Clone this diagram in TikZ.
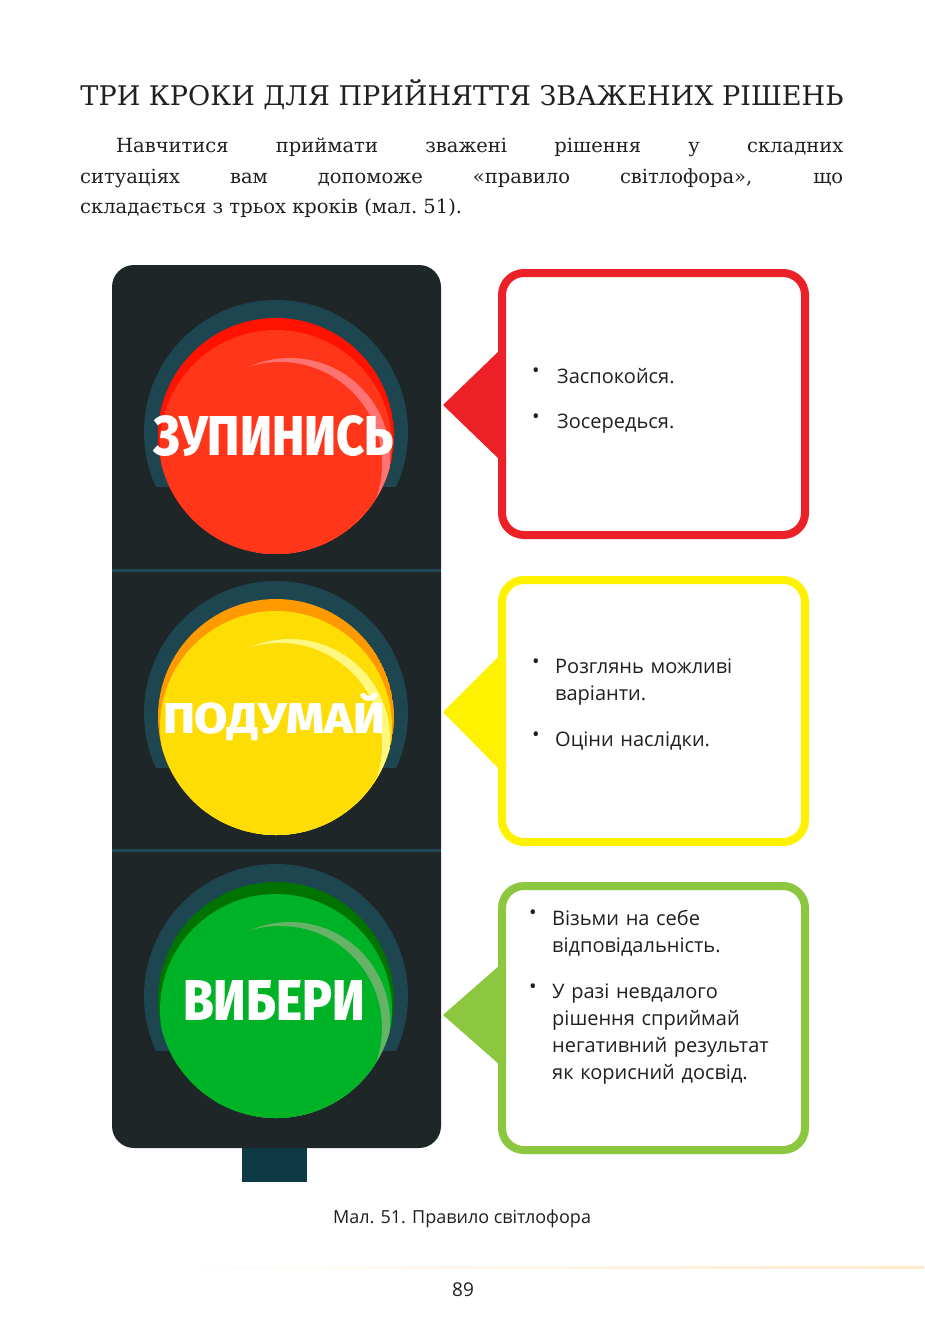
\documentclass[tikz,border=0pt]{standalone}
\usepackage{fontspec}
\setmainfont{Open Sans}
\newfontfamily\serifnt{DejaVu Serif}
\newfontfamily\condf{Fira Sans}[UprightFont=* ExtraBold]
\definecolor{body}{HTML}{1E2628}
\definecolor{ring}{HTML}{1D4650}
\definecolor{divc}{HTML}{1D4A55}
\definecolor{pole}{HTML}{0D3A45}
\definecolor{cred}{HTML}{EC2027}
\definecolor{cyel}{HTML}{FFF200}
\definecolor{cgrn}{HTML}{8DC63F}
\definecolor{txt}{HTML}{231F20}
\tikzset{
 box/.style={draw=#1,line width=8pt,rounded corners=22pt,fill=white},
 ltxt/.style={anchor=north west,text width=225pt,align=left,inner sep=0pt,font=\fontsize{20}{27}\selectfont,text=txt},
 bul/.style={anchor=north west,inner sep=0pt,font=\fontsize{20}{27}\selectfont,text=txt},
 lab/.style={text=white,inner sep=0pt,font=\condf\fontsize{44}{44}\selectfont}
}
\newcommand{\mylight}[6]{% y, crescent col, main col, highlight col, text, width
 \begin{scope}
  \clip (112,#1+50) rectangle (441,#1-140);
  \fill[ring] (276,#1-4) circle (132);
 \end{scope}
 \begin{scope}
  \clip (276,#1) circle (118);
  \fill[#2] (276,#1) circle (118);
  \fill[#3] (276,#1+10) circle (116);
  \fill[#4] (290,#1+22) circle (100);
  \fill[#3] (280,#1+28) circle (102);
 \end{scope}
 \node[lab] at (274,#1) {\resizebox{#6pt}{40pt}{#5}};
}
\begin{document}
\begin{tikzpicture}[x=1pt,y=-1pt]
\useasboundingbox (0,0) rectangle (924,1332);
\fill[white] (0,0) rectangle (924,1332);
\node[inner sep=0pt,text=txt] (title) at (462,95) {\resizebox{763pt}{!}{\serifnt\fontsize{20}{20}\selectfont ТРИ КРОКИ ДЛЯ ПРИЙНЯТТЯ ЗВАЖЕНИХ РІШЕНЬ}};
\node[anchor=north west,inner sep=0pt,text width=763pt,align=justify,text=txt,font=\serifnt\fontsize{19.5}{30.5}\selectfont] (para) at (80,138)
 {\hspace*{36pt}Навчитися приймати зважені рішення у складних\linebreak ситуаціях вам допоможе «правило світлофора», що\linebreak складається з трьох кроків (мал.~51).\par};
% traffic light
\fill[pole] (242,1140) rectangle (307,1182);
\fill[body,rounded corners=22pt] (112,265) rectangle (441,1148);
\draw[divc,line width=3pt] (112,570) -- (441,570);
\draw[divc,line width=3pt] (112,850) -- (441,850);
\mylight{436}{red!85!orange}{red!75!orange!90!white}{red!55!white}{ЗУПИНИСЬ}{240}
\mylight{717}{orange!80!yellow}{yellow!80!orange}{yellow!50!white}{ПОДУМАЙ}{222}
\mylight{1000}{green!45!black}{green!65!black!85!cyan}{green!50!black!60!white}{ВИБЕРИ}{182}
% callouts
\fill[cred] (443,405) -- (500,350) -- (500,460) -- cycle;
\node[box=cred,minimum width=303pt,minimum height=262pt,anchor=north west] (b1) at (498,269) {};
\fill[cyel] (443,712) -- (500,655) -- (500,770) -- cycle;
\node[box=cyel,minimum width=303pt,minimum height=262pt,anchor=north west] (b2) at (498,576) {};
\fill[cgrn] (443,1015) -- (500,965) -- (500,1065) -- cycle;
\node[box=cgrn,minimum width=303pt,minimum height=264pt,anchor=north west] (b3) at (498,882) {};
\node[bul] at (532,368) {•}; \node[ltxt] at (557,368) {Заспокойся.};
\node[bul] at (532,414) {•}; \node[ltxt] at (557,414) {Зосередься.};
\node[bul] at (532,659) {•}; \node[ltxt] at (555,659) {Розглянь можливі варіанти.};
\node[bul] at (532,732) {•}; \node[ltxt] at (555,732) {Оціни наслідки.};
\node[bul] at (529,910) {•}; \node[ltxt] at (552,910) {Візьми на себе відповідальність.};
\node[bul] at (529,984) {•}; \node[ltxt] at (552,984) {У разі невдалого рішення сприймай негативний результат як корисний досвід.};
\node[text=txt,font=\fontsize{18}{18}\selectfont] (cap) at (462,1219) {Мал. 51. Правило світлофора};
\shade[left color=white,right color=yellow!15!orange!20] (180,1266) rectangle (924,1268);
\node[text=txt,font=\fontsize{19}{19}\selectfont] (pg) at (463,1290) {89};
\end{tikzpicture}
\end{document}
